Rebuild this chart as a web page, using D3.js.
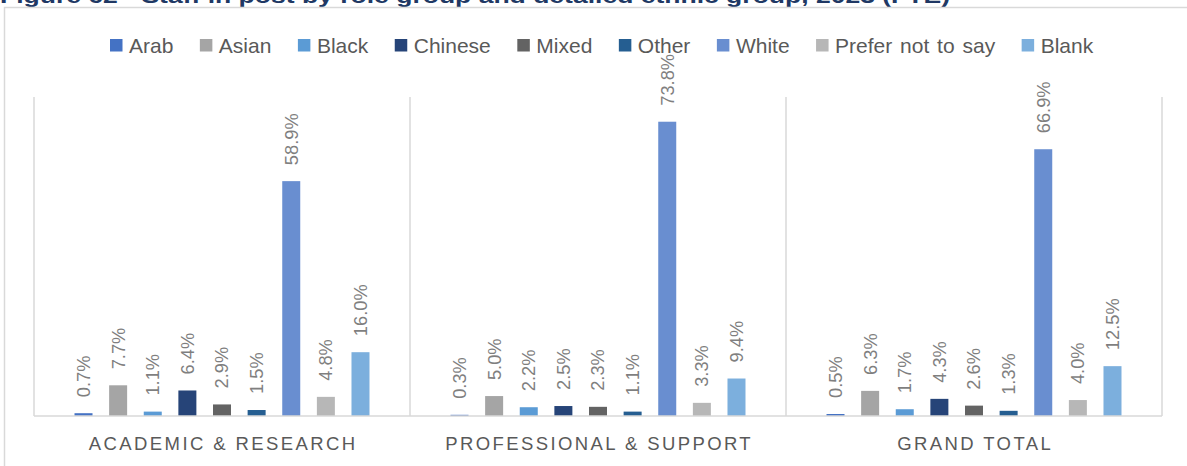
<!DOCTYPE html>
<html>
<head>
<meta charset="utf-8">
<script src="https://cdn.jsdelivr.net/npm/d3@7"></script>
<style>
  body { margin: 0; background: #fff; }
  svg { display: block; font-family: "Liberation Sans", Arial, sans-serif; }
</style>
</head>
<body>
<script>
var categories = ["ACADEMIC & RESEARCH", "PROFESSIONAL & SUPPORT", "GRAND TOTAL"];
var series = ["Arab", "Asian", "Black", "Chinese", "Mixed", "Other", "White", "Prefer not to say", "Blank"];
var academic = [0.7, 7.7, 1.1, 6.4, 2.9, 1.5, 58.9, 4.8, 16.0];
var professional = [0.3, 5.0, 2.2, 2.5, 2.3, 1.1, 73.8, 3.3, 9.4];
var grandTotal = [0.5, 6.3, 1.7, 4.3, 2.6, 1.3, 66.9, 4.0, 12.5];
var colours = ["#4472C4", "#A5A5A5", "#5B9BD5", "#264478", "#636363", "#255E91", "#698ED0", "#B7B7B7", "#7CAFDD"];
var title = "Figure 62 - Staff in post by role group and detailed ethnic group, 2023 (FTE)";

var width = 1187, height = 466;
var plot = {left: 34, right: 1162, top: 97, bottom: 416};

var table = [academic, professional, grandTotal];

var svg = d3.select("body").append("svg")
    .attr("width", width)
    .attr("height", height);

// title, mostly cropped off the top (as in the source image)
svg.append("text")
    .attr("x", 0)
    .attr("y", 3)
    .attr("font-weight", "bold")
    .attr("font-size", 21)
    .attr("fill", "#203864")
    .attr("textLength", 950)
    .attr("lengthAdjust", "spacingAndGlyphs")
    .text(title);

// chart area border (only left and top show)
svg.append("path")
    .attr("d", "M4.5," + height + "V7.5H" + width)
    .attr("fill", "none")
    .attr("stroke", "#D9D9D9")
    .attr("stroke-width", 1.5);

var x0 = d3.scaleBand().domain(categories).range([plot.left, plot.right]);
var x1 = d3.scaleBand().domain(series).range([0, x0.bandwidth()])
    .paddingInner(0.48).paddingOuter(1.17);
var y = d3.scaleLinear().domain([0, 80]).range([plot.bottom, plot.top]);

// panel separators
var seps = categories.map(function(c) { return x0(c); }).concat([plot.right]);
svg.append("g").selectAll("line")
    .data(seps)
  .enter().append("line")
    .attr("x1", function(d) { return d; })
    .attr("x2", function(d) { return d; })
    .attr("y1", plot.top)
    .attr("y2", plot.bottom)
    .attr("stroke", "#D9D9D9")
    .attr("stroke-width", 1.5);

var groups = svg.append("g").selectAll("g")
    .data(categories)
  .enter().append("g")
    .attr("transform", function(c) { return "translate(" + x0(c) + ",0)"; });

groups.selectAll("rect")
    .data(function(c, i) { return table[i].map(function(v, j) { return {s: series[j], v: v, j: j}; }); })
  .enter().append("rect")
    .attr("x", function(d) { return x1(d.s); })
    .attr("y", function(d) { return y(d.v); })
    .attr("width", x1.bandwidth())
    .attr("height", function(d) { return y(0) - y(d.v); })
    .attr("fill", function(d) { return colours[d.j]; });

groups.selectAll("text.lbl")
    .data(function(c, i) { return table[i].map(function(v, j) { return {s: series[j], v: v}; }); })
  .enter().append("text")
    .attr("class", "lbl")
    .attr("transform", function(d) {
      return "translate(" + (x1(d.s) + x1.bandwidth() / 2) + "," + (y(d.v) - 16) + ") rotate(-90)";
    })
    .attr("dy", "0.35em")
    .attr("font-size", 18.3)
    .attr("fill", "#7F7F7F")
    .text(function(d) { return d.v.toFixed(1) + "%"; });

// baseline
svg.append("line")
    .attr("x1", plot.left).attr("x2", plot.right)
    .attr("y1", plot.bottom).attr("y2", plot.bottom)
    .attr("stroke", "#D9D9D9")
    .attr("stroke-width", 1.5);

// category axis labels
svg.append("g").selectAll("text")
    .data(categories)
  .enter().append("text")
    .attr("x", function(c) { return x0(c) + x0.bandwidth() / 2 + 1.2; })
    .attr("y", 450)
    .attr("text-anchor", "middle")
    .attr("font-size", 18.5)
    .attr("letter-spacing", 2.4)
    .attr("fill", "#595959")
    .text(function(c) { return c; });

// legend
var legend = svg.append("g");
var lx = 110;
series.forEach(function(s, i) {
  legend.append("rect")
      .attr("x", lx).attr("y", 39)
      .attr("width", 12.5).attr("height", 12.5)
      .attr("fill", colours[i]);
  var t = legend.append("text")
      .attr("x", lx + 19)
      .attr("y", 52.5)
      .attr("font-size", 21)
      .attr("word-spacing", 2)
      .attr("fill", "#595959")
      .text(s);
  lx += 19 + t.node().getComputedTextLength() + 26.5;
});
</script>
</body>
</html>
